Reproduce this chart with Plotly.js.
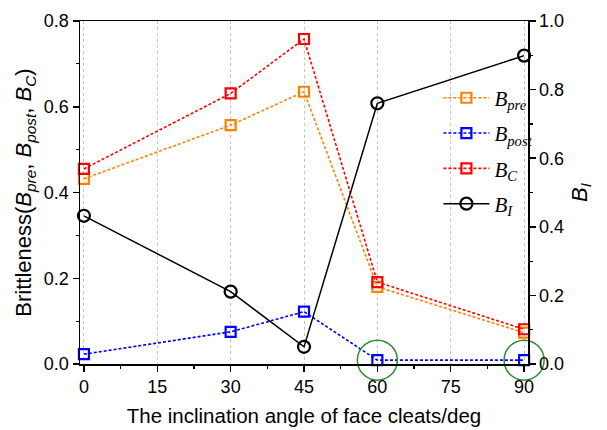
<!DOCTYPE html>
<html>
<head>
<meta charset="utf-8">
<script src="https://cdn.plot.ly/plotly-3.0.1.min.js"></script>
<style>
  html, body { margin: 0; padding: 0; background: #fff; }
  #chart { width: 607px; height: 430px; }
</style>
</head>
<body>
<div id="chart"></div>
<script>
// Inclination angle of the face cleats (deg)
const angles = [0, 30, 45, 60, 90];

// Brittleness indices (left axis)
const bPre  = [0.432, 0.557, 0.635, 0.180, 0.073];
const bPost = [0.023, 0.075, 0.122, 0.009, 0.009];
const bC    = [0.455, 0.631, 0.758, 0.191, 0.081];

// Brittleness index B_I (right axis)
const bI    = [0.432, 0.211, 0.050, 0.760, 0.899];

// Points highlighted with a green ring (angle, B_post value)
const ringX = [60, 90];
const ringY = [0.009, 0.009];

const sans = 'Arial, "Liberation Sans", sans-serif';
const serif = '"Times New Roman", "Liberation Serif", serif';

function sqTrace(y, color, name, group) {
  return {
    x: angles, y: y, name: name, legendgroup: group,
    type: 'scatter', mode: 'lines+markers', cliponaxis: false,
    line: { color: color, width: 1.6, dash: '3px,2px' },
    marker: { symbol: 'square-open', size: 10, color: color, line: { width: 2.2, color: color } }
  };
}

const traces = [
  sqTrace(bPre,  '#FF8000', '<i>B</i><sub><i>pre</i></sub>', 'g1'),
  sqTrace(bPost, '#0000FF', '<i>B</i><sub><i>post</i></sub>', 'g2'),
  sqTrace(bC,    '#FF0000', '<i>B</i><sub><i>C</i></sub>', 'g3'),
  {
    x: angles, y: bI, name: '<i>B</i><sub><i>I</i></sub>', legendgroup: 'g4',
    yaxis: 'y2', type: 'scatter', mode: 'lines+markers', cliponaxis: false,
    line: { color: '#000', width: 1.5 },
    marker: { symbol: 'circle-open', size: 12, color: '#000', line: { width: 2.2, color: '#000' } }
  },
  {
    // green rings around the near-zero B_post points
    x: ringX, y: ringY, type: 'scatter', mode: 'markers',
    showlegend: false, hoverinfo: 'skip', cliponaxis: false,
    marker: { symbol: 'circle-open', size: 40, color: '#2E8B2E', line: { width: 1.5, color: '#2E8B2E' } }
  }
];

const tickFont = { family: sans, size: 18, color: '#000' };

const layout = {
  width: 607, height: 430,
  margin: { l: 80, r: 79, t: 21, b: 66 },
  paper_bgcolor: '#fff', plot_bgcolor: '#fff',
  showlegend: true,
  legend: {
    x: 0.80, y: 0.835, xanchor: 'left', yanchor: 'top',
    bgcolor: 'rgba(0,0,0,0)', borderwidth: 0,
    font: { family: serif, size: 21, color: '#000' },
    tracegroupgap: 5, itemwidth: 46
  },
  xaxis: {
    range: [-0.8, 90.8], tickmode: 'linear', tick0: 0, dtick: 15,
    ticks: 'outside', ticklen: 6, tickwidth: 1.5, tickcolor: '#000',
    minor: { dtick: 7.5, ticks: 'outside', ticklen: 3, tickwidth: 1.2, tickcolor: '#000', showgrid: false },
    showgrid: true, gridcolor: '#c4c4c4', griddash: 'dot', gridwidth: 1,
    showline: true, linecolor: '#000', linewidth: 1.5, mirror: true,
    zeroline: false, tickfont: tickFont,
    title: { text: 'The inclination angle of face cleats/deg', font: { family: sans, size: 20.5, color: '#000' }, standoff: 12 }
  },
  yaxis: {
    range: [0, 0.8], tickmode: 'linear', tick0: 0, dtick: 0.2, tickformat: '.1f',
    ticks: 'outside', ticklen: 6, tickwidth: 1.5, tickcolor: '#000',
    minor: { dtick: 0.1, ticks: 'outside', ticklen: 3, tickwidth: 1.2, tickcolor: '#000', showgrid: false },
    showgrid: false, showline: true, linecolor: '#000', linewidth: 1.5,
    zeroline: false, tickfont: tickFont,
    title: {
      text: 'Brittleness(<i>B</i><sub><i>pre</i></sub>, <i>B</i><sub><i>post</i></sub>, <i>B</i><sub><i>C</i></sub>)',
      font: { family: sans, size: 22, color: '#000' }, standoff: 6
    }
  },
  yaxis2: {
    overlaying: 'y', side: 'right',
    range: [0, 1.0], tickmode: 'linear', tick0: 0, dtick: 0.2, tickformat: '.1f',
    ticks: 'outside', ticklen: 6, tickwidth: 1.5, tickcolor: '#000',
    minor: { dtick: 0.1, ticks: 'outside', ticklen: 3, tickwidth: 1.2, tickcolor: '#000', showgrid: false },
    showgrid: false, showline: true, linecolor: '#000', linewidth: 1.5,
    zeroline: false, tickfont: tickFont,
    title: { text: '<i>B</i><sub><i>I</i></sub>', font: { family: sans, size: 22, color: '#000' }, standoff: 8 }
  }
};

Plotly.newPlot('chart', traces, layout, { displayModeBar: false, staticPlot: true });
</script>
</body>
</html>
